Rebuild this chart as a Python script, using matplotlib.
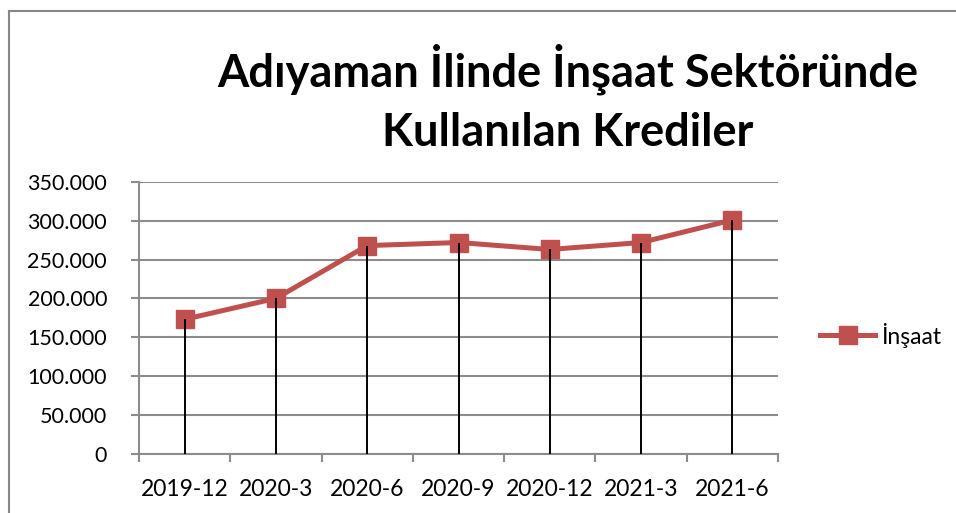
import matplotlib
matplotlib.use("Agg")
import matplotlib.pyplot as plt
from matplotlib.lines import Line2D
from matplotlib.ticker import FuncFormatter, MultipleLocator

# quarterly credit totals (thousand-separated with dots on the axis)
periods = ["2019-12", "2020-3", "2020-6", "2020-9", "2020-12", "2021-3", "2021-6"]
insaat = [173000, 200000, 268000, 272000, 263000, 272000, 301000]
series_name = "İnşaat"
title_lines = ["Adıyaman İlinde İnşaat Sektöründe", "Kullanılan Krediler"]

red = "#C0504D"
grid_gray = "#8C8C8C"
plt.rcParams["font.family"] = ["Lato", "DejaVu Sans"]

W, H = 956, 513
fig = plt.figure(figsize=(W / 100, H / 100), dpi=100)

# outer chart frame (only top and left edges fall inside the image)
fig.add_artist(Line2D([9 / W, 1.0], [1 - 11 / H, 1 - 11 / H], color="#868686", lw=1.5))
fig.add_artist(Line2D([9 / W, 9 / W], [0, 1 - 11 / H], color="#868686", lw=1.5))

left, right, top, bottom = 139, 778, 182, 453.5
ax = fig.add_axes([left / W, 1 - bottom / H, (right - left) / W, (bottom - top) / H])

x = list(range(len(periods)))
ax.set_xlim(-0.5, len(periods) - 0.5)
ax.set_ylim(0, 350000)
ax.yaxis.set_major_locator(MultipleLocator(50000))
ax.yaxis.set_major_formatter(
    FuncFormatter(lambda v, p: "0" if v == 0 else f"{int(v):,}".replace(",", "."))
)
ax.grid(axis="y", color=grid_gray, lw=1.5, zorder=0)
ax.set_axisbelow(True)

for s in ["top", "right"]:
    ax.spines[s].set_visible(False)
for s in ["left", "bottom"]:
    ax.spines[s].set_color(grid_gray)
    ax.spines[s].set_linewidth(1.5)

# category labels centred, tick marks on the boundaries
ax.set_xticks([i - 0.5 for i in range(len(periods) + 1)])
ax.set_xticklabels([])
ax.set_xticks(x, minor=True)
ax.set_xticklabels(periods, minor=True, fontsize=16.5)
ax.tick_params(axis="x", which="major", length=6, width=1.5, color=grid_gray)
ax.tick_params(axis="x", which="minor", length=0, pad=18)
ax.tick_params(axis="y", length=6, width=1.5, color=grid_gray, labelsize=15.5, pad=17)

line, = ax.plot(x, insaat, color=red, lw=3.6, marker="s", ms=13.5,
                markeredgecolor=red, zorder=3, label=series_name)
# drop lines from each point to the axis
ax.vlines(x, 0, insaat, colors="black", lw=1.4, zorder=4)

leg = fig.legend(handles=[line], loc="center left", bbox_to_anchor=(820 / W, 1 - 335 / H),
                 frameon=False, fontsize=16.5, handlelength=2.4, handletextpad=0.25,
                 borderaxespad=0, borderpad=0)

fig.text(568 / W, 1 - 87 / H, title_lines[0], ha="center", va="baseline",
         fontsize=32.5, fontweight="bold")
fig.text(568 / W, 1 - 146 / H, title_lines[1], ha="center", va="baseline",
         fontsize=32.5, fontweight="bold")

fig.savefig("out.png", dpi=100)
